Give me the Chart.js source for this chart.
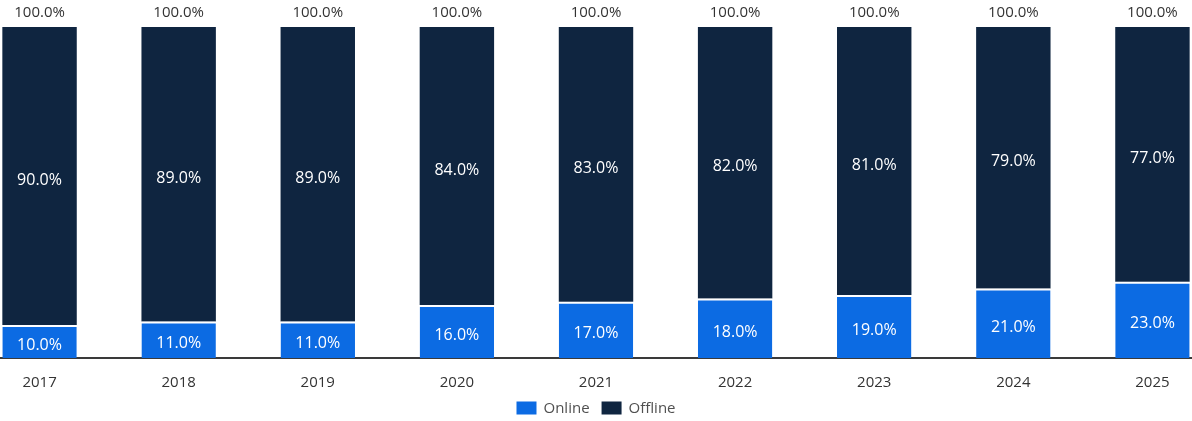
<!DOCTYPE html>
<html>
<head>
<meta charset="utf-8">
<script src="https://cdn.jsdelivr.net/npm/chart.js@4/dist/chart.umd.min.js"></script>
<style>
  html, body { margin: 0; padding: 0; background: #fff; overflow: hidden; }
  #wrap { position: relative; width: 1192px; height: 421px; overflow: hidden; }
  /* the plot runs wider than the window so the outer bars sit flush to the edges */
  #box { position: absolute; left: -30px; top: 0; width: 1252px; height: 421px; }
</style>
</head>
<body>
<div id="wrap"><div id="box"><canvas id="shareChart"></canvas></div></div>
<script>
const years = ['2017', '2018', '2019', '2020', '2021', '2022', '2023', '2024', '2025'];
const online = [10, 11, 11, 16, 17, 18, 19, 21, 23];
const offline = [90, 89, 89, 84, 83, 82, 81, 79, 77];

const BLUE = '#0c6be3';
const NAVY = '#0f2540';
const FONT = '"Open Sans", sans-serif';

// prints each segment value inside its bar and the stacked total above it
const valueLabels = {
    id: 'valueLabels',
    afterDatasetsDraw(chart) {
        const ctx = chart.ctx;
        ctx.save();
        ctx.textAlign = 'center';
        ctx.textBaseline = 'middle';
        ctx.font = '16px ' + FONT;
        chart.data.datasets.forEach((ds, di) => {
            const meta = chart.getDatasetMeta(di);
            meta.data.forEach((bar, i) => {
                const { x, y, base } = bar.getProps(['x', 'y', 'base'], true);
                ctx.fillStyle = '#ffffff';
                ctx.fillText(ds.data[i].toFixed(1) + '%', x, (y + base) / 2 + 4);
            });
        });
        ctx.font = '15px ' + FONT;
        const topMeta = chart.getDatasetMeta(chart.data.datasets.length - 1);
        topMeta.data.forEach((bar, i) => {
            const total = chart.data.datasets.reduce((s, ds) => s + ds.data[i], 0);
            ctx.fillStyle = '#333333';
            ctx.fillText(total.toFixed(1) + '%', bar.x, bar.y - 14);
        });
        ctx.restore();
    }
};

// compact legend row under the year labels, centred on the canvas
const bottomLegend = {
    id: 'bottomLegend',
    afterDraw(chart) {
        const ctx = chart.ctx;
        const boxW = 20, boxH = 13, gap = 7, spacing = 12;
        const y = chart.chartArea.bottom + 50;
        ctx.save();
        ctx.font = '15px ' + FONT;
        ctx.textBaseline = 'middle';
        ctx.textAlign = 'left';
        const items = chart.data.datasets.map(ds => ({ text: ds.label, color: ds.backgroundColor, w: ctx.measureText(ds.label).width }));
        const total = items.reduce((s, it) => s + boxW + gap + it.w, 0) + spacing * (items.length - 1);
        let x = chart.width / 2 - total / 2;
        items.forEach(it => {
            ctx.fillStyle = it.color;
            ctx.fillRect(x, y - boxH / 2, boxW, boxH);
            ctx.fillStyle = '#505050';
            ctx.fillText(it.text, x + boxW + gap, y + 1);
            x += boxW + gap + it.w + spacing;
        });
        ctx.restore();
    }
};

function initChart() {
    const ctx = document.getElementById('shareChart').getContext('2d');
    new Chart(ctx, {
        type: 'bar',
        data: {
            labels: years,
            datasets: [
                { label: 'Online', data: online, backgroundColor: BLUE, borderColor: '#ffffff', borderWidth: { top: 2 }, borderSkipped: false },
                { label: 'Offline', data: offline, backgroundColor: NAVY, borderWidth: 0 }
            ]
        },
        options: {
            responsive: true,
            maintainAspectRatio: false,
            animation: false,
            layout: { padding: { top: 27, left: 0, right: 0, bottom: 13 } },
            datasets: { bar: { categoryPercentage: 1, barPercentage: 0.535 } },
            scales: {
                x: {
                    stacked: true,
                    grid: { display: false, drawTicks: false },
                    border: { display: true, color: '#3a3a3a', width: 2 },
                    ticks: { color: '#333333', font: { family: 'Open Sans', size: 15 }, padding: 16 }
                },
                y: {
                    stacked: true,
                    min: 0,
                    max: 100,
                    display: false
                }
            },
            plugins: {
                legend: { display: false },
                tooltip: { enabled: false }
            }
        },
        plugins: [valueLabels, bottomLegend]
    });
}

window.onload = initChart;
</script>
</body>
</html>
